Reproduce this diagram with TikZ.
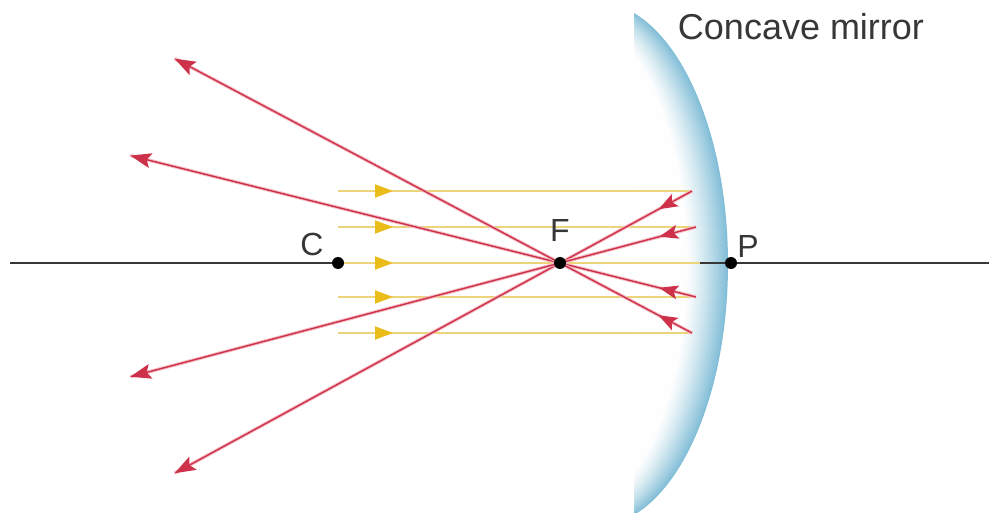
\documentclass[tikz,border=0pt]{standalone}
\usepackage{fontspec}
\setmainfont{Liberation Sans}
\usetikzlibrary{arrows.meta,calc,decorations.markings}

\definecolor{mirrorblue}{RGB}{130,190,215}
\definecolor{axisgray}{RGB}{55,55,55}
\definecolor{incident}{RGB}{236,212,120}
\definecolor{incidenttip}{RGB}{234,188,26}
\definecolor{reflected}{RGB}{206,50,74}
\definecolor{reflectedhalo}{RGB}{245,188,196}
\definecolor{labelgray}{RGB}{55,55,55}

\begin{document}
\begin{tikzpicture}[x=1pt,y=1pt,
  axisline/.style={draw=axisgray, line width=1.3pt},
  inray/.style={draw=incident, line width=1.8pt,
    postaction={decorate},
    decoration={markings, mark=at position 55pt with
      {\arrow{Triangle[length=18pt,width=13pt,color=incidenttip]}}}},
  outray/.style={draw=reflected, line width=1.4pt,
    preaction={draw=reflectedhalo, line width=3.4pt, arrows=-},
    -{Stealth[length=21pt,width=15pt,inset=4pt]},
    postaction={decorate},
    decoration={markings, mark=at position 38pt with
      {\arrow{Stealth[length=19pt,width=14pt,inset=4pt]}}}},
  dot/.style={circle, fill=black, inner sep=0pt, minimum size=12pt},
  pointlabel/.style={font=\fontsize{32}{32}\selectfont, text=labelgray, inner sep=0pt},
  titlelabel/.style={font=\fontsize{36}{36}\selectfont, text=labelgray, inner sep=0pt}
]
\fill[white] (0,0) rectangle (989,512);
\useasboundingbox (0,0) rectangle (989,512);

% mirror body: the reflecting face is an ellipse, tinted from its rim inwards
\begin{scope}
  \clip (634,0) rectangle (760,512);
  \foreach \i in {0,...,41} {
    \pgfmathsetmacro\tint{100*(1-\i/42)^1.25}
    \fill[mirrorblue!\tint!white] ({596-\i},248) ellipse[x radius=132pt, y radius=262pt];
  }
\end{scope}

% key points on the principal axis
\coordinate (Cpt) at (338,249);
\coordinate (Fpt) at (560,249);
\coordinate (Ppt) at (731,249);
\coordinate (AL) at (10,249);
\coordinate (AR) at (989,249);

% where the parallel rays start and where they meet the mirror
\coordinate (S1) at (338,321);
\coordinate (S2) at (338,285);
\coordinate (S4) at (338,215);
\coordinate (S5) at (338,179);
\coordinate (M1) at (692,321);
\coordinate (M2) at (696,285);
\coordinate (M3) at (700,249);
\coordinate (M4) at (696,215);
\coordinate (M5) at (692,179);

% reflected rays continue through F
\coordinate (E1) at ($(Fpt)!-2.92!(M1)$);
\coordinate (E2) at ($(Fpt)!-3.16!(M2)$);
\coordinate (E4) at ($(Fpt)!-3.16!(M4)$);
\coordinate (E5) at ($(Fpt)!-2.92!(M5)$);

% principal axis
\draw[axisline] (AL) -- (Cpt);
\draw[axisline] (M3) -- (AR);

% incident rays, parallel to the axis
\draw[inray] (S1) -- (M1);
\draw[inray] (S2) -- (M2);
\draw[inray] (Cpt) -- (M3);
\draw[inray] (S4) -- (M4);
\draw[inray] (S5) -- (M5);

% reflected rays
\draw[outray] (M1) -- (Fpt) -- (E1);
\draw[outray] (M2) -- (Fpt) -- (E2);
\draw[outray] (M4) -- (Fpt) -- (E4);
\draw[outray] (M5) -- (Fpt) -- (E5);

% points and labels
\node[dot] (C) at (Cpt) {};
\node[dot] (F) at (Fpt) {};
\node[dot] (P) at (Ppt) {};
\node[pointlabel] (Clab) at (312,268) {C};
\node[pointlabel] (Flab) at (560,282) {F};
\node[pointlabel] (Plab) at (748,266) {P};
\node[titlelabel] (title) at (801,485) {Concave mirror};
\end{tikzpicture}
\end{document}
